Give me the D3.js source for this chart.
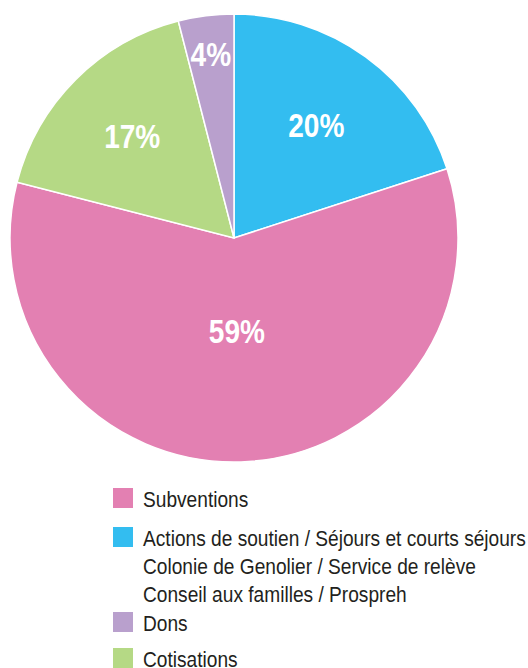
<!DOCTYPE html>
<html lang="fr">
<head>
    <meta charset="UTF-8">
    <title>Recettes</title>
    <script src="https://d3js.org/d3.v7.min.js"></script>
    <style>
        body { margin: 0; background: #fff; }
        svg text { font-family: "Liberation Sans Narrow", "Arial Narrow", "Liberation Sans", Arial, sans-serif; }
    </style>
</head>
<body>
<script>
    const width = 528;
    const height = 668;

    // data, clockwise from 12 o'clock
    const sliceNames  = ["Actions", "Subventions", "Cotisations", "Dons"];
    const sliceValues = [20, 59, 17, 4];
    const sliceColors = ["#33bdf0", "#e380b2", "#b5d985", "#b9a0cd"];

    // legend
    const legendNames = ["Subventions", "Actions", "Dons", "Cotisations"];
    const legendLines = [
        ["Subventions"],
        ["Actions de soutien / Séjours et courts séjours",
         "Colonie de Genolier / Service de relève",
         "Conseil aux familles / Prospreh"],
        ["Dons"],
        ["Cotisations"]
    ];

    const cx = 234, cy = 238, radius = 224;
    // label distance from the centre, per slice
    const labelRadius = {Actions: 140, Subventions: 93, Cotisations: 144, Dons: 185};

    const svg = d3.select("body").append("svg")
            .attr("width", width).attr("height", height);

    const color = d3.scaleOrdinal().domain(sliceNames).range(sliceColors);

    const pie = d3.pie().sort(null).value(d => d.value);
    const arcs = pie(sliceNames.map((n, i) => ({name: n, value: sliceValues[i]})));

    const arc = d3.arc().innerRadius(0).outerRadius(radius);

    const g = svg.append("g").attr("transform", `translate(${cx},${cy})`);

    g.selectAll("path.slice")
            .data(arcs)
            .enter()
            .append("path")
            .attr("class", "slice")
            .attr("d", arc)
            .style("fill", d => color(d.data.name))
            .style("stroke", "white")
            .style("stroke-width", 1.5);

    // no narrow font installed: squeeze the regular one
    g.selectAll("text.pct")
            .data(arcs)
            .enter()
            .append("text")
            .attr("class", "pct")
            .attr("transform", d => {
                const r = labelRadius[d.data.name];
                const c = d3.arc().innerRadius(r).outerRadius(r).centroid(d);
                return `translate(${c}) scale(0.85,1)`;
            })
            .attr("text-anchor", "middle")
            .attr("dy", "0.36em")
            .style("fill", "white")
            .style("font-weight", "bold")
            .style("font-size", "33px")
            .text(d => d.data.value + "%");

    // legend
    const legendTop = [488, 527, 612, 648];
    const lineGap = 28;
    const legend = svg.append("g");

    legendNames.forEach((name, i) => {
        const item = legend.append("g").attr("transform", `translate(113,${legendTop[i]})`);
        item.append("rect")
                .attr("width", 20).attr("height", 20)
                .style("fill", color(name));
        item.selectAll("text")
                .data(legendLines[i])
                .enter()
                .append("text")
                .attr("transform", (d, j) => `translate(30,${19 + j * lineGap}) scale(0.87,1)`)
                .style("font-size", "22px")
                .style("fill", "#231f20")
                .text(d => d);
    });
</script>
</body>
</html>
